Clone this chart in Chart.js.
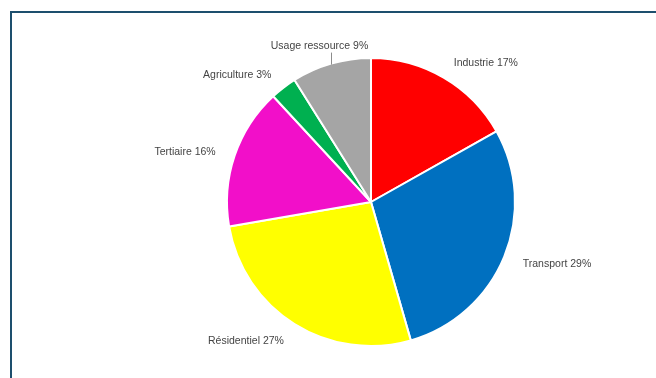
<!DOCTYPE html>
<html>
<head>
<meta charset="utf-8">
<script src="https://cdn.jsdelivr.net/npm/chart.js@4"></script>
<style>
    html, body { margin: 0; padding: 0; background: #ffffff; overflow: hidden; }
    #wrap { position: relative; width: 656px; height: 378px; overflow: hidden; }
    #frame {
        position: absolute; left: 10px; top: 11px; width: 900px; height: 600px;
        border-left: 2px solid #1d4f6d; border-top: 2px solid #1d4f6d;
    }
    canvas { position: absolute; left: 0; top: 0; }
</style>
</head>
<body>
<div id="wrap">
    <div id="frame"></div>
    <canvas id="pieChart" width="656" height="378"></canvas>
</div>
<script>
const sectors = ['Industrie', 'Transport', 'Résidentiel', 'Tertiaire', 'Agriculture', 'Usage ressource'];
const shares = [17, 29, 27, 16, 3, 9];
const sliceColors = ['#ff0000', '#0070c0', '#ffff00', '#f20fc9', '#00b050', '#a5a5a5'];

// draws "Name xx%" outside each slice, with a short leader line for the top one
const outsideLabels = {
    id: 'outsideLabels',
    afterDatasetsDraw(chart) {
        const ctx = chart.ctx;
        const arcs = chart.getDatasetMeta(0).data;
        ctx.save();
        ctx.font = '10.5px "Liberation Sans", Arial, sans-serif';
        ctx.fillStyle = '#444444';
        ctx.strokeStyle = '#8c8c8c';
        ctx.lineWidth = 1;
        arcs.forEach((arc, i) => {
            const p = arc.getProps(['x', 'y', 'startAngle', 'endAngle', 'outerRadius'], true);
            const mid = (p.startAngle + p.endAngle) / 2;
            const cos = Math.cos(mid), sin = Math.sin(mid);
            const text = `${sectors[i]} ${shares[i]}%`;
            if (Math.abs(cos) < 0.3) {
                const x0 = Math.round(p.x + cos * p.outerRadius) + 0.5;
                const y0 = p.y + sin * p.outerRadius;
                ctx.beginPath();
                ctx.moveTo(x0, y0 + 1);
                ctx.lineTo(x0, y0 - 11);
                ctx.stroke();
                ctx.textAlign = 'center';
                ctx.textBaseline = 'middle';
                ctx.fillText(text, x0 - 12, y0 - 17);
            } else {
                const d = 20;
                const x = p.x + cos * (p.outerRadius + d);
                const y = p.y + sin * (p.outerRadius + d) + (sin < 0 ? 3 : 0);
                ctx.textAlign = cos > 0 ? 'left' : 'right';
                ctx.textBaseline = 'middle';
                ctx.fillText(text, x, y);
            }
        });
        ctx.restore();
    }
};

new Chart(document.getElementById('pieChart').getContext('2d'), {
    type: 'pie',
    data: {
        labels: sectors,
        datasets: [{
            data: shares,
            backgroundColor: sliceColors,
            borderColor: '#ffffff',
            borderWidth: 2,
            hoverOffset: 0
        }]
    },
    options: {
        responsive: false,
        animation: false,
        layout: { padding: { left: 226, right: 140, top: 57, bottom: 31 } },
        plugins: {
            legend: { display: false },
            tooltip: { enabled: false }
        }
    },
    plugins: [outsideLabels]
});
</script>
</body>
</html>
